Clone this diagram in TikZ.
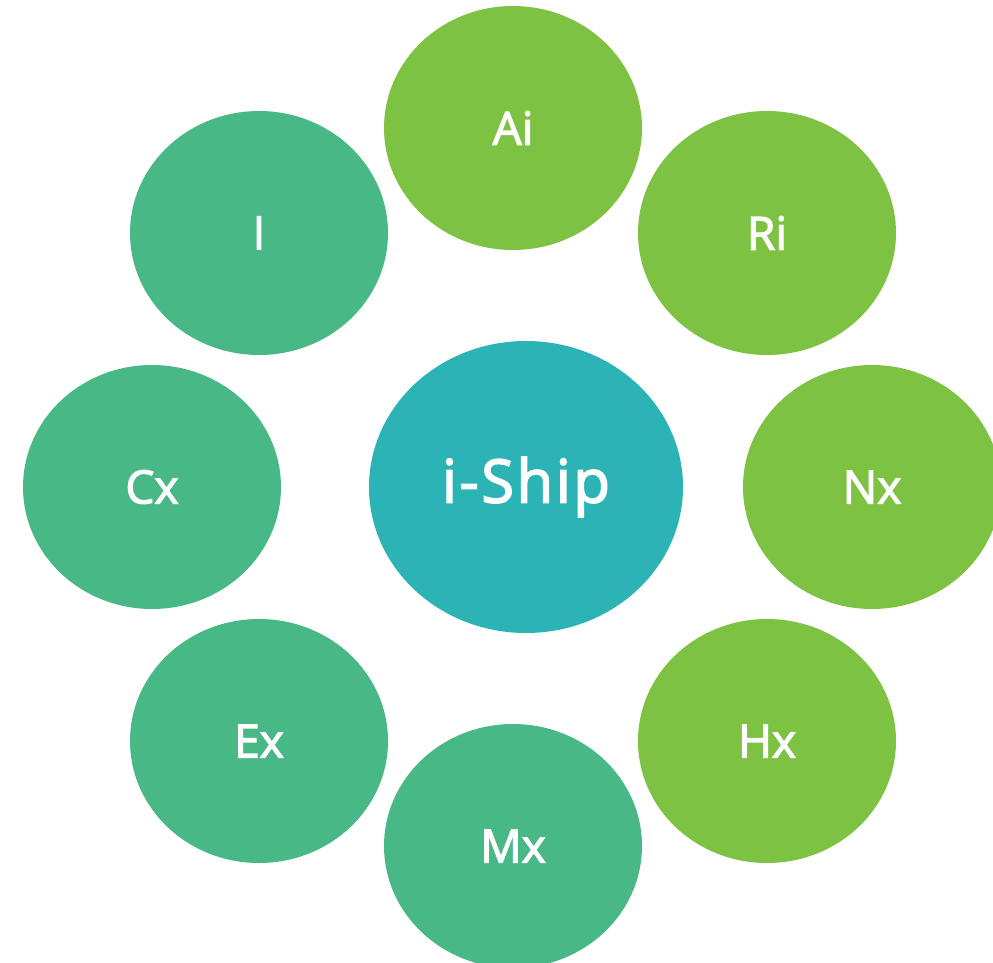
\documentclass[tikz,border=0pt]{standalone}
\usepackage{fontspec}
\setmainfont{Open Sans}[UprightFeatures={FakeBold=2.5}]
\newfontfamily\hubfont{Open Sans}[FakeBold=2.5, LetterSpace=4]
\usetikzlibrary{shapes.geometric}
\definecolor{leafgreen}{HTML}{7DC243}
\definecolor{seagreen}{HTML}{48B887}
\definecolor{hubteal}{HTML}{2BB3B5}
\tikzset{
  petal/.style={ellipse, minimum width=258pt, minimum height=244pt, inner sep=0pt,
    text=white, font=\fontsize{46}{50}\selectfont},
  petalA/.style={petal, fill=leafgreen},
  petalB/.style={petal, fill=seagreen},
  hub/.style={ellipse, minimum width=314pt, minimum height=292pt, inner sep=0pt,
    fill=hubteal, text=white, font=\hubfont\fontsize{60}{66}\selectfont}
}
\begin{document}
\begin{tikzpicture}[x=1pt,y=-1pt]
  \useasboundingbox (0,0) rectangle (993,963);
  \clip (0,0) rectangle (993,963);
  \node[hub] (ship) at (526,487) {i-Ship};
  \node[petalA] (ai) at (513,128) {Ai};
  \node[petalA] (ri) at (767,233) {Ri};
  \node[petalA] (nx) at (872,487) {Nx};
  \node[petalA] (hx) at (767,741) {Hx};
  \node[petalB] (mx) at (513,846) {Mx};
  \node[petalB] (ex) at (259,741) {Ex};
  \node[petalB] (cx) at (152,487) {Cx};
  \node[petalB] (i)  at (259,233) {I};
\end{tikzpicture}
\end{document}
